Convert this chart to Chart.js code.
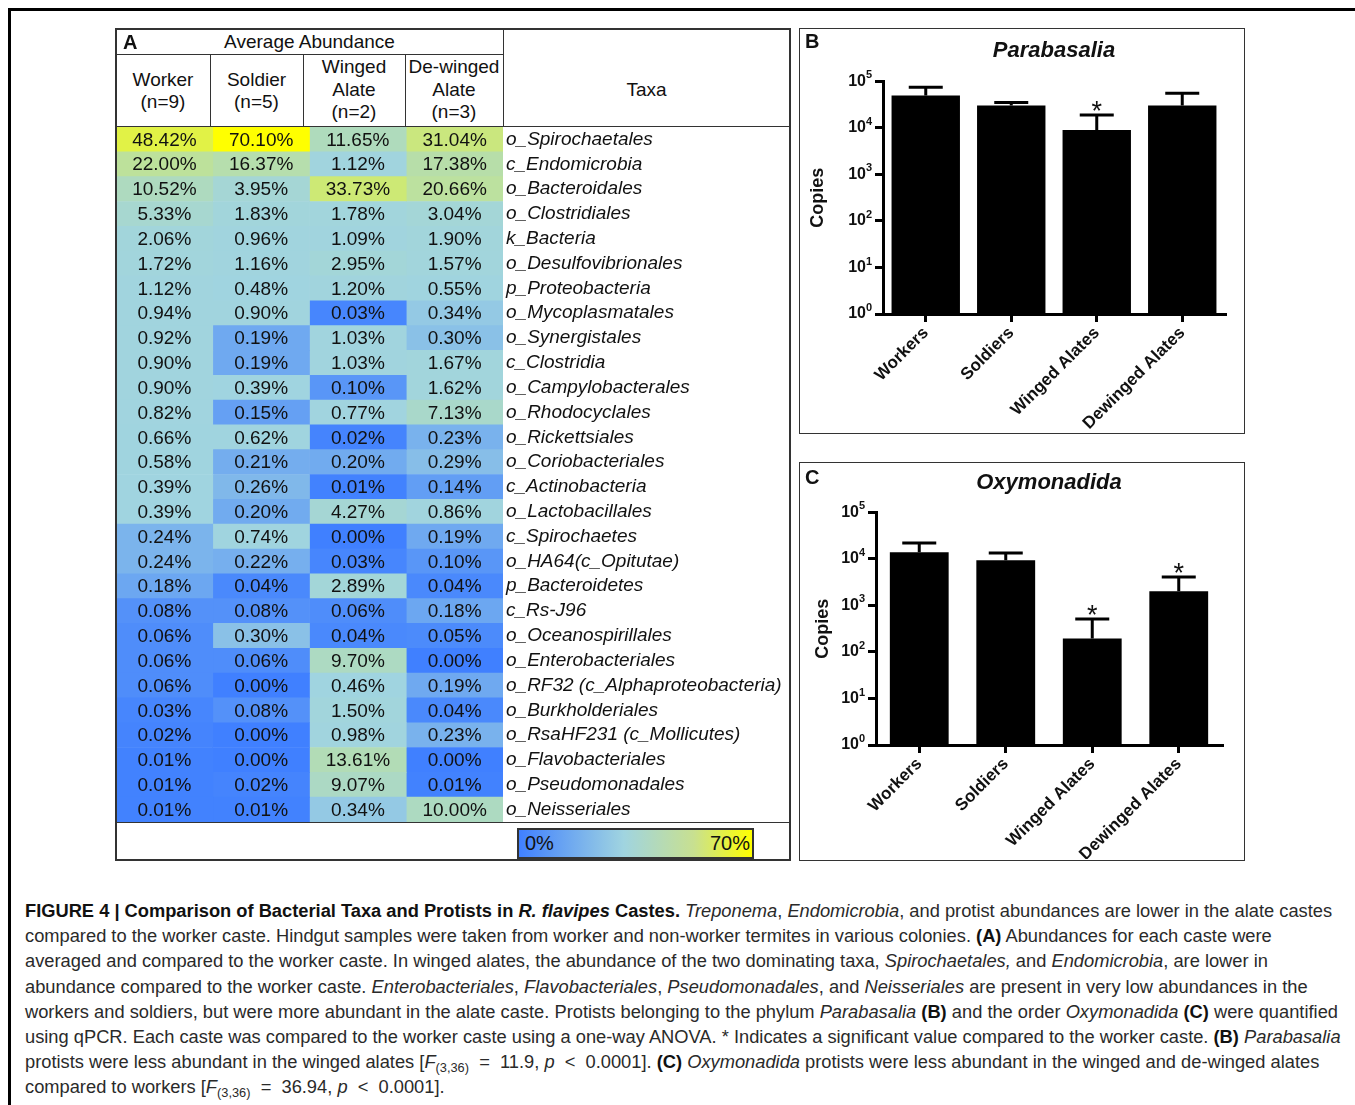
<!DOCTYPE html>
<html>
<head>
<meta charset="utf-8">
<script src="https://cdn.jsdelivr.net/npm/chart.js@4.4.0/dist/chart.umd.min.js"></script>
<style>
  body { margin: 0; background: #fff; width: 1355px; height: 1105px; position: relative; overflow: hidden;
         font-family: "Liberation Sans", Arial, sans-serif; color: #111; }
  canvas { display: block; }
  .abs { position: absolute; }
  .line { position: absolute; background: #333; z-index: 3; }
  .cell { position: absolute; display: flex; flex-direction: column; align-items: center; justify-content: center;
          font-size: 19px; line-height: 22.5px; text-align: center; }
  .box { position: absolute; border: 1.5px solid #333; box-sizing: border-box; z-index: 3; pointer-events: none; }
  .letter { position: absolute; font-weight: bold; font-size: 20px; z-index: 4; }
  #caption { position: absolute; left: 25px; top: 898px; font-size: 18.3px; line-height: 25.2px; color: #2a2a2a; white-space: nowrap; }
  #caption b { color: #111; }
  sub { font-size: 70%; vertical-align: -4px; line-height: 0; }
  .cbar { position: absolute; left: 517px; top: 828px; width: 237px; height: 31px; box-sizing: border-box;
          border: 2px solid #333; background: linear-gradient(to right, #4080ff 0%, #a0d4e0 45%, #c8e090 75%, #ffff00 100%);
          font-size: 20px; display: flex; justify-content: space-between; align-items: center; padding: 0 2px 0 6px; }
</style>
</head>
<body>

<!-- outer frame -->
<div class="line" style="left:8px; top:8px; width:1347px; height:3px; background:#000;"></div>
<div class="line" style="left:8px; top:8px; width:3px; height:1097px; background:#000;"></div>

<!-- panel A table -->
<div class="box" style="left:115px; top:28px; width:676px; height:833px; border-width:2px;"></div>
<div class="line" style="left:116px; top:53.5px; width:387px; height:1.5px;"></div>
<div class="line" style="left:116px; top:125.5px; width:674px; height:1.5px;"></div>
<div class="line" style="left:209.5px; top:54px; width:1.5px; height:72px;"></div>
<div class="line" style="left:302.5px; top:54px; width:1.5px; height:72px;"></div>
<div class="line" style="left:404.5px; top:54px; width:1.5px; height:72px;"></div>
<div class="line" style="left:502.5px; top:29px; width:1.5px; height:97px;"></div>
<div class="line" style="left:116px; top:821.5px; width:674px; height:1.5px;"></div>

<div class="letter" style="left:123px; top:31px;">A</div>
<div class="cell" style="left:116px; top:30px; width:387px; height:25px;">Average Abundance</div>
<div class="cell" style="left:116px; top:56px; width:94px; height:70px;"><span>Worker</span><span>(n=9)</span></div>
<div class="cell" style="left:210px; top:56px; width:93px; height:70px;"><span>Soldier</span><span>(n=5)</span></div>
<div class="cell" style="left:303px; top:55px; width:102px; height:70px;"><span>Winged</span><span>Alate</span><span>(n=2)</span></div>
<div class="cell" style="left:405px; top:55px; width:98px; height:70px;"><span>De-winged</span><span>Alate</span><span>(n=3)</span></div>
<div class="cell" style="left:503px; top:55px; width:287px; height:71px;">Taxa</div>

<div class="abs" style="left:116px; top:127px; width:674px; height:695px;">
  <canvas id="heat" width="674" height="695"></canvas>
</div>
<div class="cbar"><span>0%</span><span>70%</span></div>

<!-- panel B -->
<div class="box" style="left:799px; top:28px; width:446px; height:406px;"></div>
<div class="letter" style="left:805px; top:30px;">B</div>
<div class="abs" style="left:800px; top:30px; width:443px; height:402px;">
  <canvas id="chartB" width="443" height="402"></canvas>
</div>

<!-- panel C -->
<div class="box" style="left:799px; top:462px; width:446px; height:399px;"></div>
<div class="letter" style="left:805px; top:466px;">C</div>
<div class="abs" style="left:800px; top:464px; width:443px; height:395px;">
  <canvas id="chartC" width="443" height="395"></canvas>
</div>

<div id="caption">
<b>FIGURE 4 | Comparison of Bacterial Taxa and Protists in <i>R. flavipes</i> Castes.</b> <i>Treponema</i>, <i>Endomicrobia</i>, and protist abundances are lower in the alate castes<br>
compared to the worker caste. Hindgut samples were taken from worker and non-worker termites in various colonies. <b>(A)</b> Abundances for each caste were<br>
averaged and compared to the worker caste. In winged alates, the abundance of the two dominating taxa, <i>Spirochaetales,</i> and <i>Endomicrobia</i>, are lower in<br>
abundance compared to the worker caste. <i>Enterobacteriales</i>, <i>Flavobacteriales</i>, <i>Pseudomonadales</i>, and <i>Neisseriales</i> are present in very low abundances in the<br>
workers and soldiers, but were more abundant in the alate caste. Protists belonging to the phylum <i>Parabasalia</i> <b>(B)</b> and the order <i>Oxymonadida</i> <b>(C)</b> were quantified<br>
using qPCR. Each caste was compared to the worker caste using a one-way ANOVA. * Indicates a significant value compared to the worker caste. <b>(B)</b> <i>Parabasalia</i><br>
protists were less abundant in the winged alates [<i>F</i><sub>(3,36)</sub>&nbsp; = &nbsp;11.9, <i>p</i> &nbsp;&lt;&nbsp; 0.0001]. <b>(C)</b> <i>Oxymonadida</i> protists were less abundant in the winged and de-winged alates<br>
compared to workers [<i>F</i><sub>(3,36)</sub>&nbsp; = &nbsp;36.94, <i>p</i> &nbsp;&lt;&nbsp; 0.0001].
</div>

<script>
// ---- panel A: average abundance (%) per caste ----
const taxa = [
  "o_Spirochaetales", "c_Endomicrobia", "o_Bacteroidales", "o_Clostridiales", "k_Bacteria",
  "o_Desulfovibrionales", "p_Proteobacteria", "o_Mycoplasmatales", "o_Synergistales", "c_Clostridia",
  "o_Campylobacterales", "o_Rhodocyclales", "o_Rickettsiales", "o_Coriobacteriales", "c_Actinobacteria",
  "o_Lactobacillales", "c_Spirochaetes", "o_HA64(c_Opitutae)", "p_Bacteroidetes", "c_Rs-J96",
  "o_Oceanospirillales", "o_Enterobacteriales", "o_RF32 (c_Alphaproteobacteria)", "o_Burkholderiales",
  "o_RsaHF231 (c_Mollicutes)", "o_Flavobacteriales", "o_Pseudomonadales", "o_Neisseriales"
];
const worker = [48.42, 22.00, 10.52, 5.33, 2.06, 1.72, 1.12, 0.94, 0.92, 0.90, 0.90, 0.82, 0.66, 0.58,
  0.39, 0.39, 0.24, 0.24, 0.18, 0.08, 0.06, 0.06, 0.06, 0.03, 0.02, 0.01, 0.01, 0.01];
const soldier = [70.10, 16.37, 3.95, 1.83, 0.96, 1.16, 0.48, 0.90, 0.19, 0.19, 0.39, 0.15, 0.62, 0.21,
  0.26, 0.20, 0.74, 0.22, 0.04, 0.08, 0.30, 0.06, 0.00, 0.08, 0.00, 0.00, 0.02, 0.01];
const wingedAlate = [11.65, 1.12, 33.73, 1.78, 1.09, 2.95, 1.20, 0.03, 1.03, 1.03, 0.10, 0.77, 0.02, 0.20,
  0.01, 4.27, 0.00, 0.03, 2.89, 0.06, 0.04, 9.70, 0.46, 1.50, 0.98, 13.61, 9.07, 0.34];
const dewingedAlate = [31.04, 17.38, 20.66, 3.04, 1.90, 1.57, 0.55, 0.34, 0.30, 1.67, 1.62, 7.13, 0.23, 0.29,
  0.14, 0.86, 0.19, 0.10, 0.04, 0.18, 0.05, 0.00, 0.19, 0.04, 0.23, 0.00, 0.01, 10.00];
const casteColumns = ["Worker", "Soldier", "Winged Alate", "De-winged Alate"];

// ---- panels B and C: qPCR copies (mean and upper error) ----
const castes = ["Workers", "Soldiers", "Winged Alates", "Dewinged Alates"];
const parabasaliaMean = [50000, 30500, 9000, 30500];
const parabasaliaErr = [25000, 4500, 9900, 25000];
const parabasaliaSig = [false, false, true, false];
const oxymonadidaMean = [13900, 9400, 194, 2020];
const oxymonadidaErr = [8000, 4000, 315, 2050];
const oxymonadidaSig = [false, false, true, true];
const decadeTicks = [1, 10, 100, 1000, 10000, 100000];
const decadeExponents = ["0", "1", "2", "3", "4", "5"];

const FONT = '"Liberation Sans", Arial, sans-serif';

// three-colour scale like a spreadsheet: min blue, median light cyan, max yellow
const allValues = [].concat(worker, soldier, wingedAlate, dewingedAlate).sort((a, b) => a - b);
const n = allValues.length;
const midValue = n % 2 ? allValues[(n - 1) / 2] : (allValues[n / 2 - 1] + allValues[n / 2]) / 2;
const minValue = allValues[0];
const maxValue = allValues[n - 1];
const lowRGB = [64, 128, 255], midRGB = [160, 212, 224], highRGB = [255, 255, 0];

function mix(a, b, t) {
  return "rgb(" + a.map((v, k) => Math.round(v + (b[k] - v) * t)).join(",") + ")";
}
function cellColor(v) {
  if (v <= midValue) return mix(lowRGB, midRGB, (v - minValue) / (midValue - minValue));
  return mix(midRGB, highRGB, (v - midValue) / (maxValue - midValue));
}

const cellText = {
  id: "cellText",
  afterDatasetsDraw(chart) {
    const ctx = chart.ctx;
    ctx.save();
    ctx.font = "19px " + FONT;
    ctx.fillStyle = "#111";
    ctx.textAlign = "center";
    ctx.textBaseline = "middle";
    chart.data.datasets.forEach((ds, d) => {
      chart.getDatasetMeta(d).data.forEach((bar, i) => {
        ctx.fillText(ds.values[i].toFixed(2) + "%", (bar.x + bar.base) / 2, bar.y + 1);
      });
    });
    ctx.restore();
  }
};

new Chart(document.getElementById("heat"), {
  type: "bar",
  data: {
    labels: taxa,
    datasets: [worker, soldier, wingedAlate, dewingedAlate].map((vals, c) => ({
      label: casteColumns[c],
      values: vals,
      data: vals.map(() => [c, c + 1]),
      backgroundColor: vals.map(cellColor),
      borderWidth: 0,
      grouped: false,
      barPercentage: 1,
      categoryPercentage: 1
    }))
  },
  options: {
    indexAxis: "y",
    responsive: false,
    animation: false,
    layout: { padding: 0 },
    plugins: { legend: { display: false }, tooltip: { enabled: false } },
    scales: {
      x: { type: "linear", min: 0, max: 4, display: false },
      y: {
        position: "right",
        grid: { display: false, drawTicks: false },
        border: { display: false },
        ticks: { autoSkip: false, padding: 3, color: "#111", font: { family: FONT, size: 19, style: "italic" } },
        afterFit: s => { s.width = 287; s.paddingTop = 0; s.paddingBottom = 0; }
      }
    }
  },
  plugins: [cellText]
});

const errorBars = {
  id: "errorBars",
  afterDatasetsDraw(chart) {
    const ctx = chart.ctx;
    const yScale = chart.scales.y;
    const ds = chart.data.datasets[0];
    ctx.save();
    ctx.strokeStyle = "#000";
    ctx.fillStyle = "#111";
    ctx.lineWidth = 3;
    chart.getDatasetMeta(0).data.forEach((bar, i) => {
      const top = yScale.getPixelForValue(ds.data[i] + ds.errs[i]);
      ctx.beginPath();
      ctx.moveTo(bar.x, bar.y);
      ctx.lineTo(bar.x, top);
      ctx.moveTo(bar.x - 17, top);
      ctx.lineTo(bar.x + 17, top);
      ctx.stroke();
      if (ds.sig[i]) {
        ctx.font = "27px " + FONT;
        ctx.textAlign = "center";
        ctx.textBaseline = "alphabetic";
        ctx.fillText("*", bar.x, top + 5);
      }
    });
    ctx.restore();
  }
};

// "10" comes from the axis ticks, the exponent is drawn beside it
const exponents = {
  id: "exponents",
  afterDraw(chart) {
    const ctx = chart.ctx;
    const yScale = chart.scales.y;
    ctx.save();
    ctx.font = "bold 11px " + FONT;
    ctx.fillStyle = "#111";
    ctx.textAlign = "left";
    ctx.textBaseline = "middle";
    decadeTicks.forEach((v, k) => {
      ctx.fillText(decadeExponents[k], yScale.right - 17, yScale.getPixelForValue(v) - 6);
    });
    ctx.restore();
  }
};

function protistChart(id, title, means, errs, sig, fit) {
  return new Chart(document.getElementById(id), {
    type: "bar",
    data: {
      labels: castes,
      datasets: [{
        data: means,
        errs: errs,
        sig: sig,
        backgroundColor: "#000",
        borderWidth: 0,
        barPercentage: 1,
        categoryPercentage: fit.barShare
      }]
    },
    options: {
      responsive: false,
      animation: false,
      layout: { padding: { left: 0, right: fit.right, top: 0, bottom: 0 } },
      plugins: {
        legend: { display: false },
        tooltip: { enabled: false },
        title: {
          display: true,
          text: title,
          fullSize: false,
          color: "#111",
          font: { family: FONT, size: 22, weight: "bold", style: "italic" },
          padding: { top: fit.titleTop, bottom: fit.titleBottom }
        }
      },
      scales: {
        x: {
          grid: { drawOnChartArea: false, offset: false, color: "#000", lineWidth: 3, tickLength: 8 },
          border: { color: "#000", width: 3 },
          ticks: { color: "#111", minRotation: 45, maxRotation: 45, padding: 1,
                   font: { family: FONT, size: 17, weight: "bold" } },
          afterFit: s => { s.height = fit.xHeight; }
        },
        y: {
          type: "logarithmic",
          min: 1,
          max: 100000,
          grid: { drawOnChartArea: false, color: "#000", lineWidth: 3, tickLength: 8 },
          border: { color: "#000", width: 3 },
          ticks: { color: "#111", padding: 9, font: { family: FONT, size: 16, weight: "bold" },
                   callback: () => "10" },
          afterBuildTicks: s => { s.ticks = decadeTicks.map(v => ({ value: v })); },
          title: { display: true, text: "Copies", color: "#111",
                   font: { family: FONT, size: 18, weight: "bold" }, padding: { top: fit.yTitlePad, bottom: 0 } },
          afterFit: s => { s.width = fit.yWidth; }
        }
      }
    },
    plugins: [errorBars, exponents]
  });
}

protistChart("chartB", "Parabasalia", parabasaliaMean, parabasaliaErr, parabasaliaSig,
  { barShare: 0.8, right: 18, titleTop: 8, titleBottom: 17, xHeight: 118, yWidth: 83, yTitlePad: 7 });
protistChart("chartC", "Oxymonadida", oxymonadidaMean, oxymonadidaErr, oxymonadidaSig,
  { barShare: 0.68, right: 21, titleTop: 6, titleBottom: 16, xHeight: 114, yWidth: 76, yTitlePad: 12 });
</script>
</body>
</html>
